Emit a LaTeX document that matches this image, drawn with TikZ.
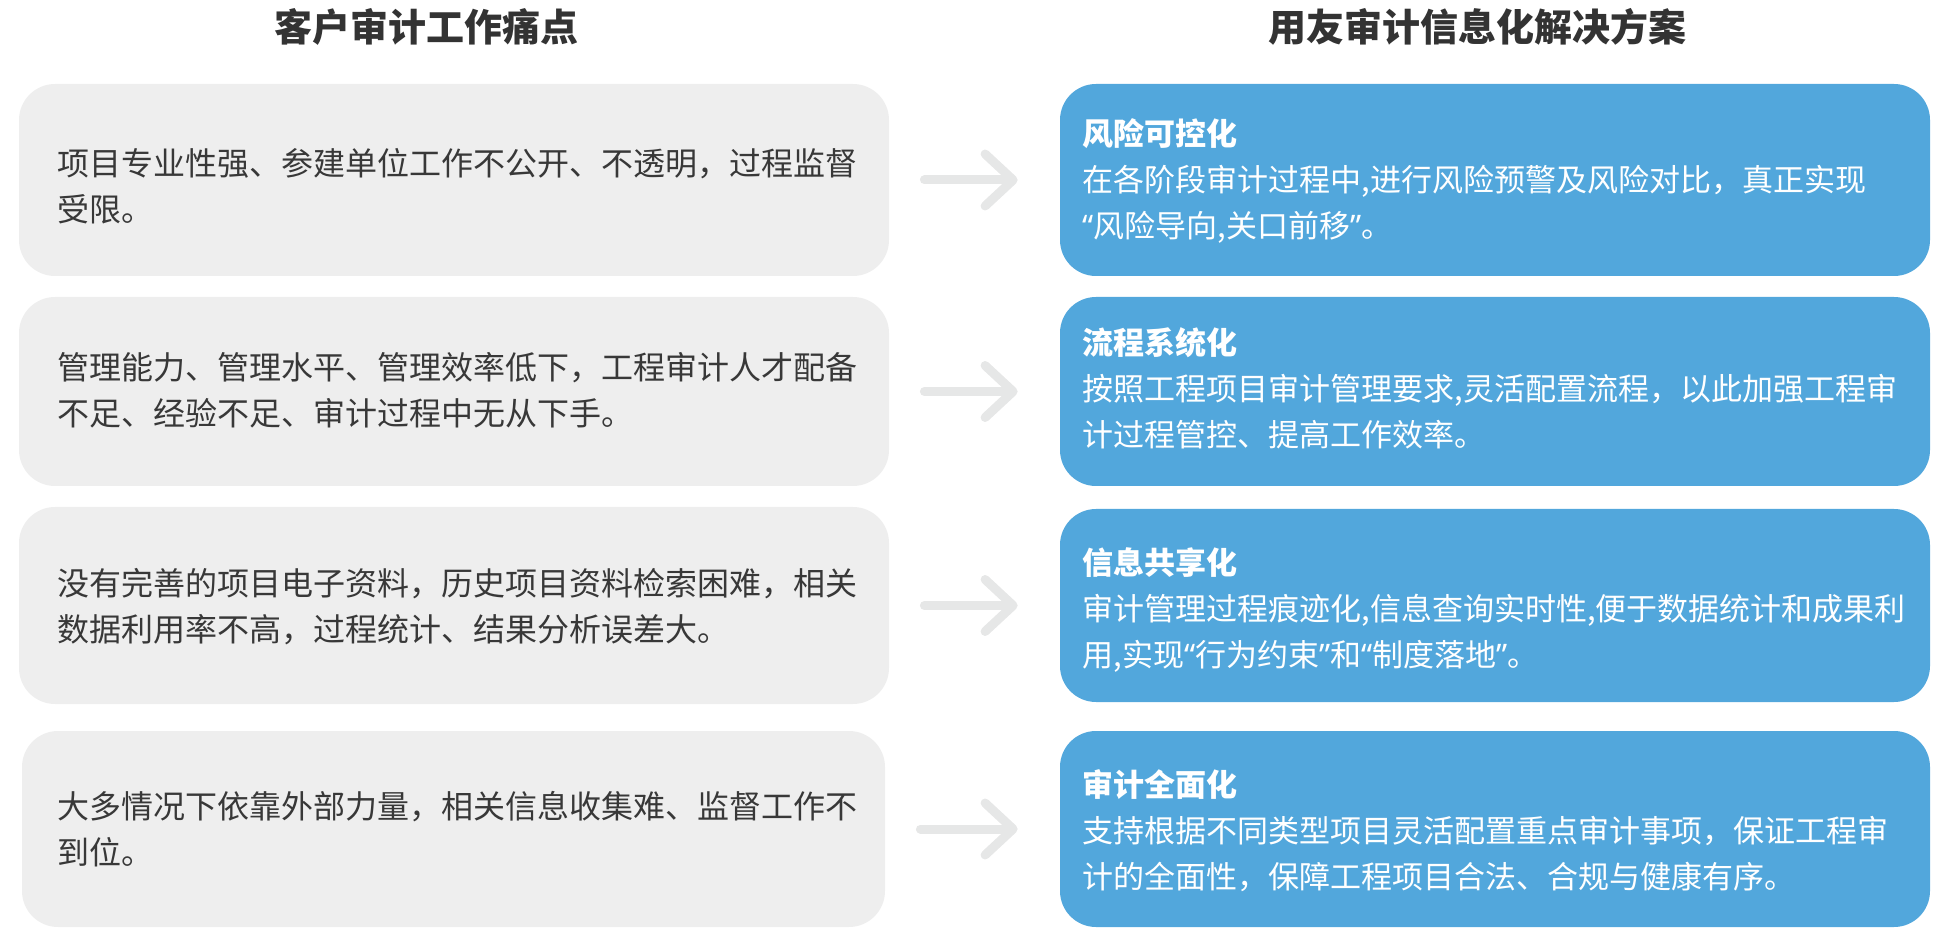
\documentclass[tikz,border=0pt]{standalone}
\usepackage{fontspec}
\setmainfont{Noto Sans CJK SC}
\newfontfamily\qfont{Noto Sans}
\newcommand{\myoq}{{\qfont “}}
\newcommand{\mycq}{{\qfont ”}}
\usetikzlibrary{arrows.meta}
\definecolor{boxgray}{HTML}{EEEEEE}
\definecolor{boxblue}{HTML}{52A7DC}
\definecolor{txtgray}{HTML}{383838}
\definecolor{arrgray}{HTML}{E6E7E7}
\definecolor{titlegray}{HTML}{333333}
\begin{document}
\begin{tikzpicture}[x=0.5pt,y=-0.5pt,
  graybox/.style={fill=boxgray, draw=none, rounded corners=18pt, inner sep=0pt},
  bluebox/.style={fill=boxblue, draw=none, rounded corners=18pt, inner sep=0pt},
  paintxt/.style={anchor=west, inner sep=0pt, align=left, text=txtgray, font=\fontsize{16}{23}\selectfont},
  soltxt/.style={anchor=west, inner sep=0pt, align=left, text=white, font=\fontsize{15.5}{23}\selectfont},
  coltitle/.style={inner sep=0pt, text=titlegray, font=\fontsize{19}{19}\selectfont\bfseries},
  arr/.style={draw=arrgray, line width=4.5pt, line cap=round, shorten <=17.5pt, shorten >=21pt,
    -{Straight Barb[length=14pt,width=26pt,round]}}]
\useasboundingbox (0,0) rectangle (1944,940);

% titles
\node[coltitle] (t1) at (426,27) {客户审计工作痛点};
\node[coltitle] (t2) at (1477,27) {用友审计信息化解决方案};

% left boxes
\node[graybox, minimum width=435pt, minimum height=96pt] (L1) at (454,180) {};
\node[graybox, minimum width=435pt, minimum height=94.5pt] (L2) at (454,391.5) {};
\node[graybox, minimum width=435pt, minimum height=98.5pt] (L3) at (454,605.5) {};
\node[graybox, minimum width=431.5pt, minimum height=98pt] (L4) at (453.5,829) {};

% right boxes
\node[bluebox, minimum width=435pt, minimum height=96pt] (R1) at (1495,180) {};
\node[bluebox, minimum width=435pt, minimum height=94.5pt] (R2) at (1495,391.5) {};
\node[bluebox, minimum width=435pt, minimum height=96.5pt] (R3) at (1495,605.5) {};
\node[bluebox, minimum width=435pt, minimum height=98pt] (R4) at (1495,829) {};

% left texts
\node[paintxt] (p1) at (57,186.5) {项目专业性强、参建单位工作不公开、不透明，过程监督\\受限。};
\node[paintxt] (p2) at (57,390) {管理能力、管理水平、管理效率低下，工程审计人才配备\\不足、经验不足、审计过程中无从下手。};
\node[paintxt] (p3) at (57,606.5) {没有完善的项目电子资料，历史项目资料检索困难，相关\\数据利用率不高，过程统计、结果分析误差大。};
\node[paintxt] (p4) at (57,829.5) {大多情况下依靠外部力量，相关信息收集难、监督工作不\\到位。};

% right texts
\node[soltxt] (s1) at (1082,181) {{\bfseries 风险可控化}\\在各阶段审计过程中,进行风险预警及风险对比，真正实现\\\myoq 风险导向,关口前移\mycq 。};
\node[soltxt] (s2) at (1082,388) {{\bfseries 流程系统化}\\按照工程项目审计管理要求,灵活配置流程，以此加强工程审\\计过程管控、提高工作效率。};
\node[soltxt] (s3) at (1082,610) {{\bfseries 信息共享化}\\审计管理过程痕迹化,信息查询实时性,便于数据统计和成果利\\用,实现\myoq 行为约束\mycq 和\myoq 制度落地\mycq 。};
\node[soltxt] (s4) at (1082,831) {{\bfseries 审计全面化}\\支持根据不同类型项目灵活配置重点审计事项，保证工程审\\计的全面性，保障工程项目合法、合规与健康有序。};

% arrows
\draw[arr] (L1.east) -- (R1.west);
\draw[arr] (L2.east) -- (R2.west);
\draw[arr] (L3.east) -- (R3.west);
\draw[arr] (L4.east) -- (R4.west);
\end{tikzpicture}
\end{document}
